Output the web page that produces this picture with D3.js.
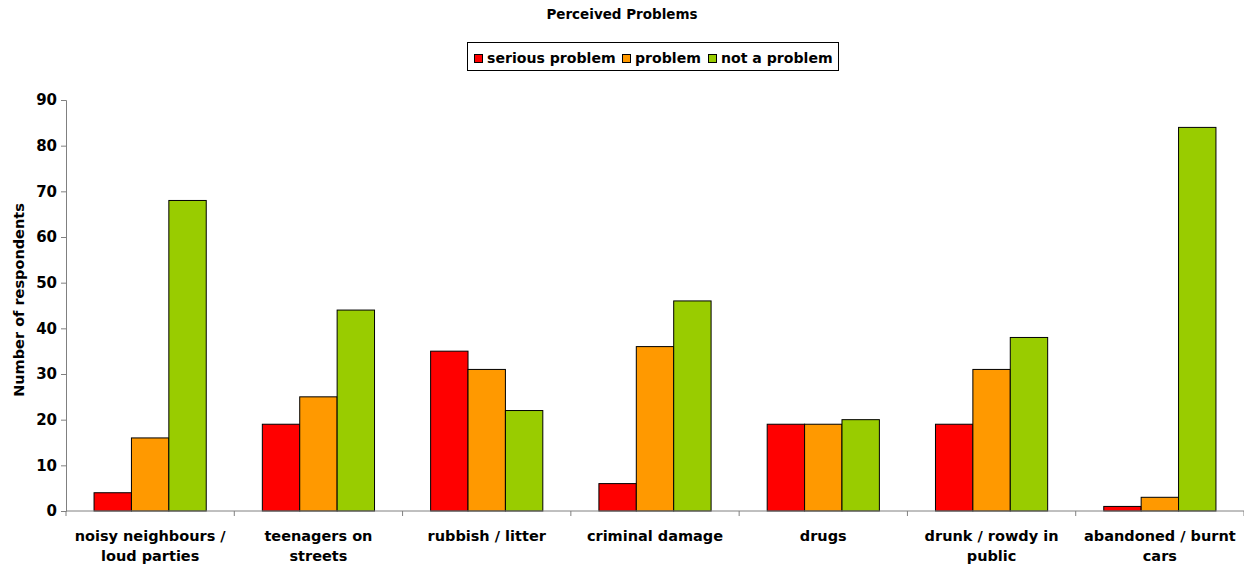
<!DOCTYPE html>
<html><head><meta charset="utf-8">
<script src="https://cdn.jsdelivr.net/npm/d3@7"></script>
<style>body{margin:0;background:#fff}svg{display:block}text{font-family:"DejaVu Sans",Verdana,sans-serif;font-weight:bold;fill:#000}</style>
</head><body><svg id="c" width="1244" height="567"></svg>
<script>
const categories = [["noisy neighbours /","loud parties"],["teenagers on","streets"],["rubbish / litter"],["criminal damage"],["drugs"],["drunk / rowdy in","public"],["abandoned / burnt","cars"]];
const seriesNames = ["serious problem","problem","not a problem"];
const seriousProblem = [4,19,35,6,19,19,1];
const problem = [16,25,31,36,19,31,3];
const notAProblem = [68,44,22,46,20,38,84];
const colors = ["#ff0000","#ff9900","#99cc00"];
const yTicks = [0,10,20,30,40,50,60,70,80,90];

const svg = d3.select("#c");
const L=66, R=1244, T=100, B=511;
const x = d3.scaleBand().domain(d3.range(categories.length)).range([L,R]).paddingInner(0).paddingOuter(0);
const y = d3.scaleLinear().domain([0,90]).range([B,T]);
const bw = x.bandwidth()/4.5;
const series=[seriousProblem,problem,notAProblem];

// title
svg.append("text").attr("x",622).attr("y",19).attr("text-anchor","middle").style("font-size","13.5px").text("Perceived Problems");

// y axis
const ya = svg.append("g").attr("transform",`translate(${L},0)`).call(d3.axisLeft(y).tickValues(yTicks).tickSize(5).tickPadding(4));
ya.select(".domain").attr("stroke","#808080");
ya.selectAll(".tick line").attr("stroke","#808080");
ya.selectAll(".tick text").style("font-size","15px").style("font-family",'"DejaVu Sans",Verdana,sans-serif');

// bars
series.forEach((s,si)=>{
  svg.append("g").selectAll("rect").data(s).join("rect")
    .attr("x",(d,i)=>x(i)+0.75*bw+si*bw)
    .attr("y",d=>y(d))
    .attr("width",bw)
    .attr("height",d=>B-y(d))
    .attr("fill",colors[si]).attr("stroke","#000").attr("stroke-width",1);
});

// x axis
const xa = svg.append("g").attr("transform",`translate(0,${B})`);
xa.append("line").attr("x1",L).attr("x2",R).attr("y1",0).attr("y2",0).attr("stroke","#808080");
xa.selectAll("line.t").data(d3.range(categories.length+1)).join("line").attr("class","t")
  .attr("x1",i=>L+i*x.step()).attr("x2",i=>L+i*x.step()).attr("y1",0).attr("y2",5).attr("stroke","#808080");
const cl = svg.append("g").selectAll("text").data(categories).join("text")
  .attr("x",(d,i)=>x(i)+x.bandwidth()/2).attr("y",541).attr("text-anchor","middle").style("font-size","14.5px");
cl.each(function(d){
  d3.select(this).selectAll("tspan").data(d).join("tspan").attr("x",d3.select(this).attr("x")).attr("dy",(t,j)=>j?20:0).text(t=>t);
});

// y label
svg.append("text").attr("transform","translate(24,300) rotate(-90)").attr("text-anchor","middle").style("font-size","14.5px").text("Number of respondents");

// legend
const lg = svg.append("g");
lg.append("rect").attr("x",467.5).attr("y",42.5).attr("width",371).attr("height",28).attr("fill","#fff").attr("stroke","#000");
const legendX=[474,622,708];
seriesNames.forEach((n,i)=>{
  lg.append("rect").attr("x",legendX[i]+0.5).attr("y",54.5).attr("width",8).attr("height",8).attr("fill",colors[i]).attr("stroke","#000");
  lg.append("text").attr("x",legendX[i]+13).attr("y",63).style("font-size","14.1px").text(n);
});
</script></body></html>
